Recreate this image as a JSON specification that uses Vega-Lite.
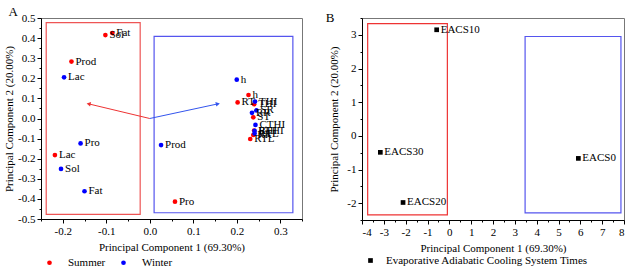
{
  "$schema": "https://vega.github.io/schema/vega-lite/v6.json",
  "background": "white",
  "padding": {"left": 3, "top": 5, "right": 5, "bottom": 5},
  "bounds": "flush",
  "spacing": 60,
  "resolve": {"scale": {"color": "independent"}, "legend": {"color": "independent"}},
  "config": {
    "font": "Liberation Serif",
    "view": {"stroke": "#777", "strokeWidth": 1},
    "axis": {"domainColor": "black", "tickColor": "black", "tickSize": 4, "labelFont": "Liberation Serif", "labelFontSize": 11, "labelColor": "black", "titleFont": "Liberation Serif", "titleFontSize": 11, "titleFontWeight": "normal", "titleColor": "black", "grid": false, "labelOverlap": false, "labelPadding": 2},
    "legend": {"labelFont": "Liberation Serif", "labelFontSize": 11, "labelColor": "black", "labelLimit": 400},
    "title": {"font": "Liberation Serif", "fontSize": 13, "fontWeight": "normal", "color": "black"}
  },
  "hconcat": [
    {
      "width": 261,
      "height": 201,
      "title": {"text": "A", "anchor": "start", "frame": "bounds", "offset": -7, "dx": 5},
      "resolve": {"axis": {"x": "independent", "y": "independent"}},
      "layer": [
        {
          "data": {"values": [{"x": -0.238, "x2": -0.022, "y": -0.477, "y2": 0.477}]},
          "mark": {"type": "rect", "fill": null, "stroke": "#ee5555", "strokeWidth": 1.2},
          "encoding": {
            "x": {"field": "x", "type": "quantitative", "scale": {"domain": [-0.25, 0.35], "nice": false, "zero": false},
              "axis": {"title": "Principal Component 1 (69.30%)", "orient": "bottom", "values": [-0.2, -0.1, 0, 0.1, 0.2, 0.3],
                "labelExpr": "replace(format(datum.value, '.1f'), '\u2212', '-')", "titlePadding": 5}},
            "x2": {"field": "x2"},
            "y": {"field": "y", "type": "quantitative", "scale": {"domain": [-0.5, 0.5], "nice": false, "zero": false},
              "axis": {"title": "Principal Component 2 (20.00%)", "orient": "left", "values": [-0.5, -0.4, -0.3, -0.2, -0.1, 0, 0.1, 0.2, 0.3, 0.4, 0.5],
                "labelExpr": "replace(format(datum.value, '.1f'), '\u2212', '-')", "titlePadding": 3}},
            "y2": {"field": "y2"}
          }
        },
        {
          "data": {"values": [{"x": 0.010, "x2": 0.329, "y": -0.469, "y2": 0.409}]},
          "mark": {"type": "rect", "fill": null, "stroke": "#5555ee", "strokeWidth": 1.2},
          "encoding": {
            "x": {"field": "x", "type": "quantitative", "axis": null},
            "x2": {"field": "x2"},
            "y": {"field": "y", "type": "quantitative", "axis": null},
            "y2": {"field": "y2"}
          }
        },
        {
          "mark": {"type": "rule", "color": "#444", "strokeWidth": 1},
          "encoding": {"x": {"datum": 0, "axis": {"orient": "bottom", "title": null, "labels": false, "domain": false, "tickSize": 2, "values": [-0.25, -0.15, -0.05, 0.05, 0.15, 0.25, 0.35]}}}
        },
        {
          "mark": {"type": "rule", "color": "#444", "strokeWidth": 1},
          "encoding": {"y": {"datum": 0, "axis": {"orient": "left", "title": null, "labels": false, "domain": false, "tickSize": 2, "values": [-0.45, -0.35, -0.25, -0.15, -0.05, 0.05, 0.15, 0.25, 0.35, 0.45]}}}
        },
        {
          "data": {"values": [{"x0": 0, "y0": 0, "x": -0.139, "y": 0.072}]},
          "layer": [
            {"mark": {"type": "rule", "color": "#ee3333", "strokeWidth": 1},
             "encoding": {"x": {"field": "x0", "type": "quantitative", "axis": null}, "y": {"field": "y0", "type": "quantitative", "axis": null}, "x2": {"field": "x"}, "y2": {"field": "y"}}},
            {"mark": {"type": "point", "shape": "triangle", "filled": true, "color": "#ee3333", "size": 22, "angle": 283, "opacity": 1},
             "encoding": {"x": {"field": "x", "type": "quantitative", "axis": null}, "y": {"field": "y", "type": "quantitative", "axis": null}}}
          ]
        },
        {
          "data": {"values": [{"x0": 0, "y0": 0, "x": 0.155, "y": 0.072}]},
          "layer": [
            {"mark": {"type": "rule", "color": "#3355ee", "strokeWidth": 1},
             "encoding": {"x": {"field": "x0", "type": "quantitative", "axis": null}, "y": {"field": "y0", "type": "quantitative", "axis": null}, "x2": {"field": "x"}, "y2": {"field": "y"}}},
            {"mark": {"type": "point", "shape": "triangle", "filled": true, "color": "#3355ee", "size": 22, "angle": 77, "opacity": 1},
             "encoding": {"x": {"field": "x", "type": "quantitative", "axis": null}, "y": {"field": "y", "type": "quantitative", "axis": null}}}
          ]
        },
        {
          "data": {"values": [
            {"label": "Fat", "season": "Summer", "x": -0.086, "y": 0.425},
            {"label": "Sol", "season": "Summer", "x": -0.102, "y": 0.415},
            {"label": "Prod", "season": "Summer", "x": -0.180, "y": 0.283},
            {"label": "Lac", "season": "Summer", "x": -0.218, "y": -0.182},
            {"label": "Pro", "season": "Summer", "x": 0.058, "y": -0.414},
            {"label": "h", "season": "Summer", "x": 0.227, "y": 0.117},
            {"label": "RT", "season": "Summer", "x": 0.202, "y": 0.080},
            {"label": "THI", "season": "Summer", "x": 0.240, "y": 0.071},
            {"label": "ST", "season": "Summer", "x": 0.238, "y": 0.006},
            {"label": "RHI", "season": "Summer", "x": 0.240, "y": -0.060},
            {"label": "RR", "season": "Summer", "x": 0.238, "y": -0.082},
            {"label": "RTL", "season": "Summer", "x": 0.231, "y": -0.102},
            {"label": "Lac", "season": "Winter", "x": -0.197, "y": 0.205},
            {"label": "Pro", "season": "Winter", "x": -0.159, "y": -0.124},
            {"label": "Sol", "season": "Winter", "x": -0.204, "y": -0.251},
            {"label": "Fat", "season": "Winter", "x": -0.150, "y": -0.362},
            {"label": "Prod", "season": "Winter", "x": 0.026, "y": -0.132},
            {"label": "h", "season": "Winter", "x": 0.200, "y": 0.193},
            {"label": "THI", "season": "Winter", "x": 0.242, "y": 0.084},
            {"label": "SR", "season": "Winter", "x": 0.245, "y": 0.040},
            {"label": "RR", "season": "Winter", "x": 0.235, "y": 0.028},
            {"label": "CTHI", "season": "Winter", "x": 0.243, "y": -0.032},
            {"label": "RTHI", "season": "Winter", "x": 0.241, "y": -0.062},
            {"label": "RTL", "season": "Winter", "x": 0.241, "y": -0.075}
          ]},
          "layer": [
            {"mark": {"type": "point", "filled": true, "size": 22, "opacity": 1},
             "encoding": {
               "x": {"field": "x", "type": "quantitative", "axis": null},
               "y": {"field": "y", "type": "quantitative", "axis": null},
               "color": {"field": "season", "type": "nominal", "scale": {"domain": ["Summer", "Winter"], "range": ["#ff0000", "#0000ff"]},
                 "legend": {"title": null, "orient": "none", "legendX": 3, "legendY": 239, "direction": "horizontal", "symbolSize": 22, "symbolType": "circle", "labelOffset": 13, "columnPadding": 12}}
             }},
            {"mark": {"type": "text", "align": "left", "baseline": "middle", "dx": 4, "fontSize": 11, "font": "Liberation Serif", "color": "black"},
             "encoding": {
               "x": {"field": "x", "type": "quantitative", "axis": null},
               "y": {"field": "y", "type": "quantitative", "axis": null},
               "text": {"field": "label"}
             }}
          ]
        }
      ]
    },
    {
      "width": 262,
      "height": 202,
      "title": {"text": "B", "anchor": "start", "frame": "bounds", "offset": -7, "dx": -3},
      "resolve": {"axis": {"x": "independent", "y": "independent"}},
      "layer": [
        {
          "data": {"values": [{"x": -3.74, "x2": -0.09, "y": -2.35, "y2": 3.33}]},
          "mark": {"type": "rect", "fill": null, "stroke": "#ee3333", "strokeWidth": 1.2},
          "encoding": {
            "x": {"field": "x", "type": "quantitative", "scale": {"domain": [-4, 8], "nice": false, "zero": false},
              "axis": {"title": "Principal Component 1 (69.30%)", "orient": "bottom", "values": [-4, -3, -2, -1, 0, 1, 2, 3, 4, 5, 6, 7, 8],
                "labelExpr": "replace(format(datum.value, 'd'), '\u2212', '-')", "titlePadding": 5}},
            "x2": {"field": "x2"},
            "y": {"field": "y", "type": "quantitative", "scale": {"domain": [-2.5, 3.5], "nice": false, "zero": false},
              "axis": {"title": "Principal Component 2 (20.00%)", "orient": "left", "values": [-2, -1, 0, 1, 2, 3],
                "labelExpr": "replace(format(datum.value, 'd'), '\u2212', '-')", "titlePadding": 7}},
            "y2": {"field": "y2"}
          }
        },
        {
          "data": {"values": [{"x": 3.47, "x2": 7.86, "y": -2.29, "y2": 2.95}]},
          "mark": {"type": "rect", "fill": null, "stroke": "#5555ee", "strokeWidth": 1.2},
          "encoding": {
            "x": {"field": "x", "type": "quantitative", "axis": null},
            "x2": {"field": "x2"},
            "y": {"field": "y", "type": "quantitative", "axis": null},
            "y2": {"field": "y2"}
          }
        },
        {
          "mark": {"type": "rule", "color": "#222", "strokeWidth": 1},
          "encoding": {"x": {"datum": 0, "axis": {"orient": "bottom", "title": null, "labels": false, "domain": false, "tickSize": 2, "values": [-3.5, -2.5, -1.5, -0.5, 0.5, 1.5, 2.5, 3.5, 4.5, 5.5, 6.5, 7.5]}}}
        },
        {
          "mark": {"type": "rule", "color": "#222", "strokeWidth": 1},
          "encoding": {"y": {"datum": 0, "axis": {"orient": "left", "title": null, "labels": false, "domain": false, "tickSize": 2, "values": [-2.5, -1.5, -0.5, 0.5, 1.5, 2.5, 3.5]}}}
        },
        {
          "data": {"values": [
            {"label": "EACS10", "group": "Evaporative Adiabatic Cooling System Times", "x": -0.58, "y": 3.15},
            {"label": "EACS30", "group": "Evaporative Adiabatic Cooling System Times", "x": -3.16, "y": -0.49},
            {"label": "EACS20", "group": "Evaporative Adiabatic Cooling System Times", "x": -2.12, "y": -1.98},
            {"label": "EACS0", "group": "Evaporative Adiabatic Cooling System Times", "x": 5.91, "y": -0.67}
          ]},
          "layer": [
            {"mark": {"type": "point", "shape": "square", "filled": true, "size": 22, "opacity": 1},
             "encoding": {
               "x": {"field": "x", "type": "quantitative", "axis": null},
               "y": {"field": "y", "type": "quantitative", "axis": null},
               "color": {"field": "group", "type": "nominal", "scale": {"domain": ["Evaporative Adiabatic Cooling System Times"], "range": ["black"]},
                 "legend": {"title": null, "orient": "none", "legendX": 3, "legendY": 237, "symbolSize": 22, "symbolType": "square", "labelOffset": 10}}
             }},
            {"mark": {"type": "text", "align": "left", "baseline": "middle", "dx": 4, "fontSize": 11, "font": "Liberation Serif", "color": "black"},
             "encoding": {
               "x": {"field": "x", "type": "quantitative", "axis": null},
               "y": {"field": "y", "type": "quantitative", "axis": null},
               "text": {"field": "label"}
             }}
          ]
        }
      ]
    }
  ]
}
